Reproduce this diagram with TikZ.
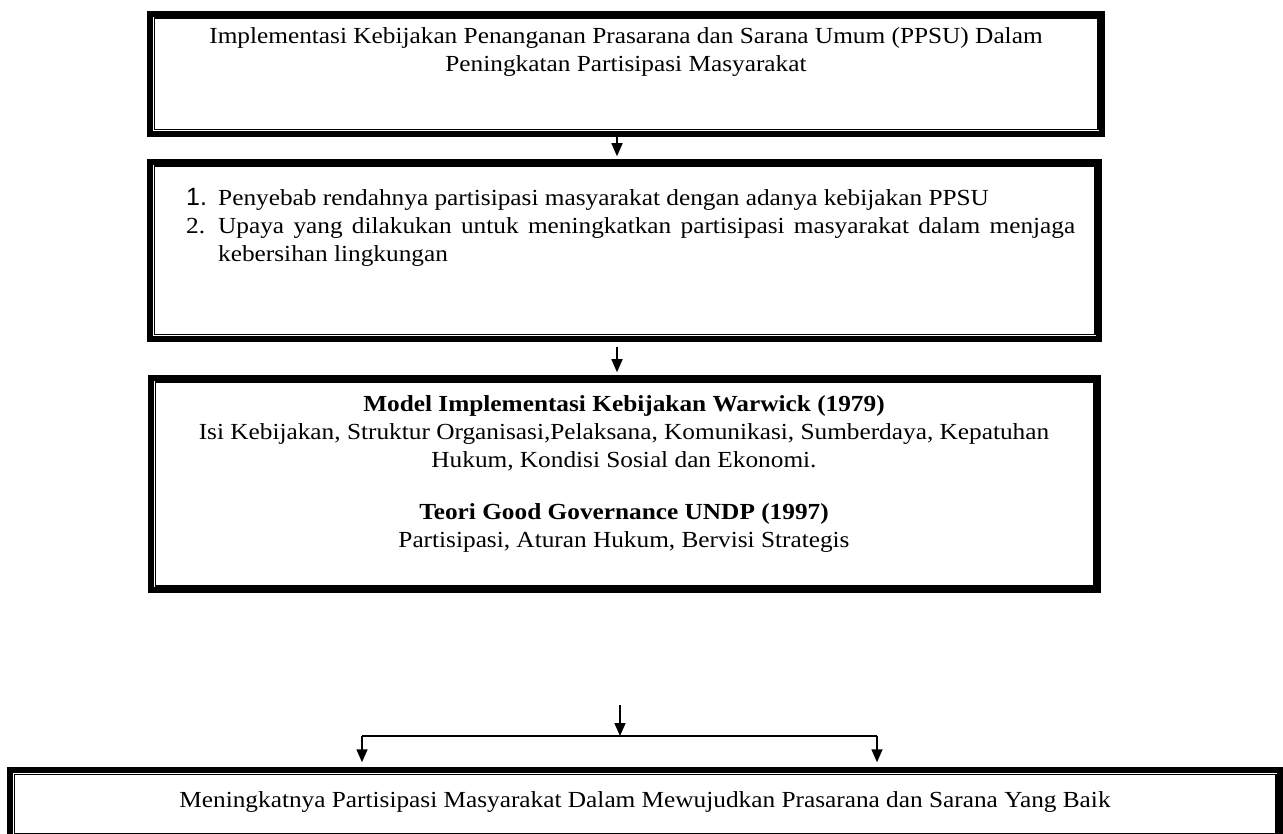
\documentclass[tikz,border=0pt]{standalone}
\usepackage{fontspec}
\setmainfont[FakeStretch=1.1]{Liberation Serif}
\setsansfont{Liberation Sans}
\usetikzlibrary{arrows.meta}
\newcommand{\boxfont}{\fontsize{23}{28}\selectfont}

\begin{document}
\begin{tikzpicture}[x=1pt,y=-1pt]
	\tikzset{
		frame/.style={draw, line width=5.5pt, inner sep=0pt},
		arr/.style={line width=1.6pt, -{Triangle[length=13pt,width=11pt]}, shorten >=3pt},
		txt/.style={font=\boxfont, inner sep=0pt}
	}
	\useasboundingbox (0,0) rectangle (1283,834);

	% boxes
	\node[frame, minimum width=952pt, minimum height=120pt] (b1) at (626,74) {};
	\node[frame, minimum width=949pt, minimum height=177pt] (b2) at (624.5,250.5) {};
	\node[frame, minimum width=947pt, minimum height=212pt] (b3) at (624.5,484) {};
	\node[frame, minimum width=1270pt, minimum height=68pt] (b4) at (645,804) {};
	% inner thin frames
	\foreach \bx in {b1,b2,b3,b4}
		\draw[line width=1.5pt] ([xshift=7pt,yshift=-7pt]\bx.north west) rectangle ([xshift=-7pt,yshift=7pt]\bx.south east);

	% labels
	\node[txt, align=center] (t1) at (626,52) {Implementasi Kebijakan Penanganan Prasarana dan Sarana Umum (PPSU) Dalam\\
		Peningkatan Partisipasi Masyarakat};

	\node[txt, anchor=north west] (t2) at (186,186) {%
		\begin{tabular}{@{}p{32pt}@{}p{857pt}@{}}
			{\sffamily\fontsize{25}{28}\selectfont 1.} & Penyebab rendahnya partisipasi masyarakat dengan adanya kebijakan PPSU\\
			2. & Upaya yang dilakukan untuk meningkatkan partisipasi masyarakat dalam menjaga\linebreak
			kebersihan lingkungan
		\end{tabular}};

	\node[txt, align=center] (t3) at (624,474) {\textbf{Model Implementasi Kebijakan Warwick (1979)}\\
		Isi Kebijakan, Struktur Organisasi,Pelaksana, Komunikasi, Sumberdaya, Kepatuhan\\
		Hukum, Kondisi Sosial dan Ekonomi.\\[24pt]
		\textbf{Teori Good Governance UNDP (1997)}\\
		Partisipasi, Aturan Hukum, Bervisi Strategis};

	\node[txt] (t4) at (645,802) {Meningkatnya Partisipasi Masyarakat Dalam Mewujudkan Prasarana dan Sarana Yang Baik};

	% arrows
	\draw[arr] ([xshift=-9pt]b1.south) -- ([xshift=-9pt]b1.south |- b2.north);
	\coordinate (a2) at (617,347);
	\draw[arr] (a2) -- (a2 |- b3.north);
	\coordinate (f0) at (620,705);
	\coordinate (fork) at (620,736);
	\coordinate (fl) at (362,736);
	\coordinate (fr) at (877,736);
	\draw[arr, shorten >=0pt] (f0) -- (fork);
	\draw[line width=1.6pt] (fl) -- (fr);
	\draw[arr, shorten >=5pt] (fl) -- (fl |- b4.north);
	\draw[arr, shorten >=5pt] (fr) -- (fr |- b4.north);
\end{tikzpicture}
\end{document}
